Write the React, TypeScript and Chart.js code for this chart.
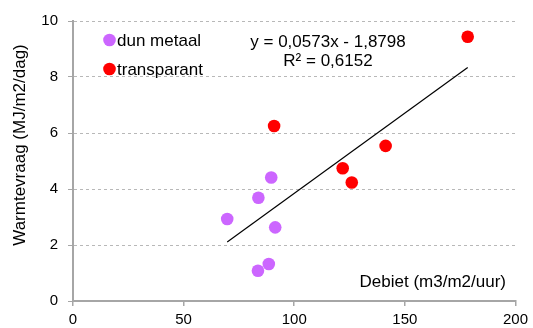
import React, { useEffect, useRef } from "react";
import { Chart, registerables } from "chart.js";

Chart.register(...registerables);

const xTicksMax = 200;
const yTicksMax = 10;

const dunMetaalX = [69.7, 83.8, 89.6, 91.4, 83.6, 88.5];
const dunMetaalY = [2.93, 3.69, 4.41, 2.63, 1.08, 1.32];
const transparantX = [90.9, 121.9, 126.0, 141.3, 178.4];
const transparantY = [6.25, 4.74, 4.23, 5.54, 9.44];
const trendX = [69.7, 178.4];
const trendY = [2.11, 8.34];

const seriesNames = ["dun metaal", "transparant"];
const seriesColors = ["#CC66FF", "#FF0000"];
const equationText = "y = 0,0573x - 1,8798";
const r2Text = "R² = 0,6152";
const xTitle = "Debiet (m3/m2/uur)";
const yTitle = "Warmtevraag (MJ/m2/dag)";

const FONT = "'Liberation Sans', Arial, sans-serif";

const overlayPlugin = {
  id: "overlay",
  afterDraw(chart: any) {
    const ctx = chart.ctx as CanvasRenderingContext2D;
    ctx.save();
    ctx.fillStyle = "#000";
    ctx.font = `17px ${FONT}`;
    ctx.textBaseline = "middle";
    // legend
    const legendY = [40, 69];
    seriesNames.forEach((name, i) => {
      ctx.beginPath();
      ctx.fillStyle = seriesColors[i];
      ctx.arc(109.5, legendY[i], 6.3, 0, Math.PI * 2);
      ctx.fill();
      ctx.fillStyle = "#000";
      ctx.textAlign = "left";
      ctx.fillText(name, 117, legendY[i] + 1);
    });
    // equation
    ctx.textAlign = "center";
    ctx.fillText(equationText, 328, 42);
    ctx.fillText(r2Text, 328, 61.5);
    // x title inside
    ctx.textAlign = "right";
    ctx.fillText(xTitle, 506, 282);
    // y title
    ctx.translate(20, 145);
    ctx.rotate(-Math.PI / 2);
    ctx.textAlign = "center";
    ctx.fillText(yTitle, 0, 0);
    ctx.restore();
  },
};

export default function App() {
  const ref = useRef<HTMLCanvasElement>(null);
  useEffect(() => {
    document.body.style.margin = "0";
    const canvas = ref.current!;
    const chart = new Chart(canvas, {
      type: "scatter",
      data: {
        datasets: [
          {
            type: "line",
            label: "trend",
            data: trendX.map((x, i) => ({ x, y: trendY[i] })),
            borderColor: "#000",
            borderWidth: 1.2,
            pointRadius: 0,
            showLine: true,
            fill: false,
            order: 0,
          } as any,
          {
            label: seriesNames[0],
            data: dunMetaalX.map((x, i) => ({ x, y: dunMetaalY[i] })),
            backgroundColor: seriesColors[0],
            borderColor: seriesColors[0],
            pointRadius: 6.3,
            borderWidth: 0,
            order: 1,
          },
          {
            label: seriesNames[1],
            data: transparantX.map((x, i) => ({ x, y: transparantY[i] })),
            backgroundColor: seriesColors[1],
            borderColor: seriesColors[1],
            pointRadius: 6.3,
            borderWidth: 0,
            order: 2,
          },
        ],
      },
      options: {
        animation: false,
        responsive: false,
        layout: { padding: { top: 21, right: 17, left: 0, bottom: 0 } },
        plugins: { legend: { display: false }, tooltip: { enabled: false } },
        scales: {
          x: {
            type: "linear",
            min: 0,
            max: xTicksMax,
            afterFit: (s: any) => {
              s.height = 27;
            },
            ticks: { stepSize: 50, color: "#000", font: { family: FONT, size: 15 }, padding: 5 },
            grid: { drawOnChartArea: false, drawTicks: true, tickLength: 5, color: "#A6A6A6", lineWidth: 1.5 },
            border: { color: "#A6A6A6", width: 2 },
          },
          y: {
            type: "linear",
            min: 0,
            max: yTicksMax,
            afterFit: (s: any) => {
              s.width = 73;
            },
            ticks: { stepSize: 2, color: "#000", font: { family: FONT, size: 15 }, padding: 10 },
            grid: {
              drawTicks: true,
              tickLength: 5,
              color: (c: any) => (c.tick && c.tick.value === 0 ? "rgba(0,0,0,0)" : "#B8B8B8"),
              tickColor: "#A6A6A6",
              lineWidth: 1,
            },
            border: { color: "#A6A6A6", width: 2, dash: [3, 3] },
          },
        },
      },
      plugins: [overlayPlugin],
    } as any);
    return () => chart.destroy();
  }, []);
  return (
    <div style={{ width: 533, height: 328 }}>
      <canvas ref={ref} width={533} height={328} />
    </div>
  );
}
